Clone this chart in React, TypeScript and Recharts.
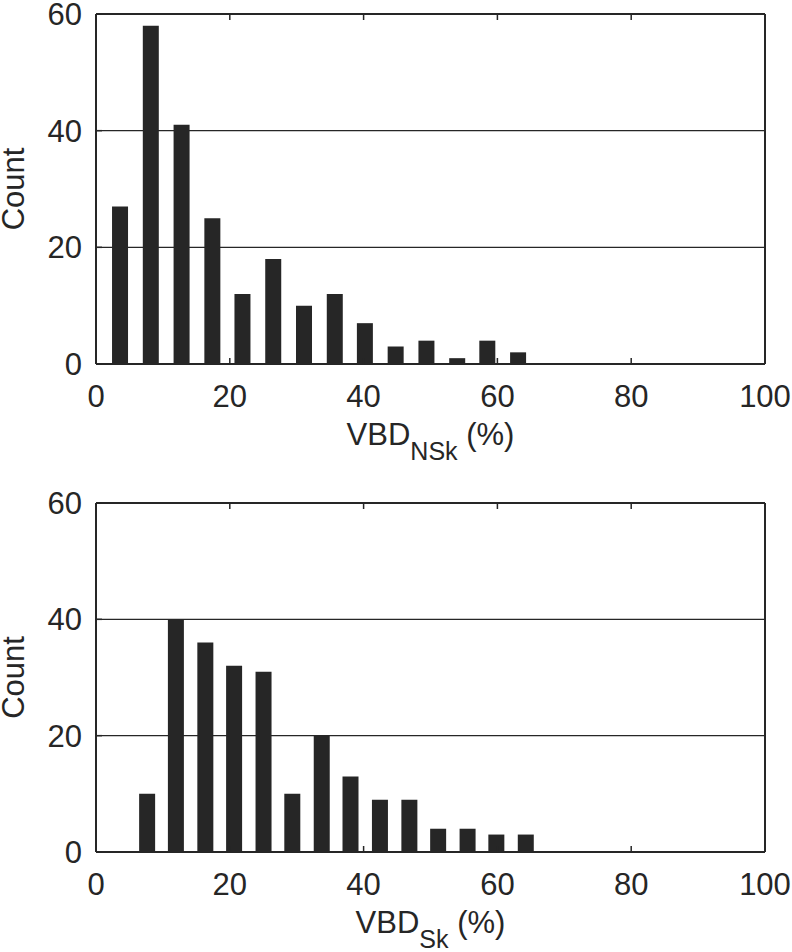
import React from "react";
import { BarChart, Bar, XAxis, YAxis, CartesianGrid, Label } from "recharts";

// bin centres (% VBD) and counts
const nskCenters = [3.6, 8.2, 12.8, 17.4, 21.9, 26.5, 31.1, 35.7, 40.2, 44.8, 49.4, 54.0, 58.5, 63.1];
const nskCounts = [27, 58, 41, 25, 12, 18, 10, 12, 7, 3, 4, 1, 4, 2];
const skCenters = [7.7, 12.0, 16.4, 20.7, 25.1, 29.4, 33.8, 38.1, 42.5, 46.9, 51.2, 55.6, 59.9, 64.3];
const skCounts = [10, 40, 36, 32, 31, 10, 20, 13, 9, 9, 4, 4, 3, 3];
const xTicks = [0, 20, 40, 60, 80, 100];
const yTicks = [0, 20, 40, 60];

const INK = "#262626";
const FONT = "'Liberation Sans', Arial, Helvetica, sans-serif";
const FS = 31;

function XLabel({ viewBox, sub }: any) {
  const cx = viewBox.x + viewBox.width / 2;
  const y = viewBox.y + 81;
  return (
    <text x={cx} y={y} textAnchor="middle" fontFamily={FONT} fontSize={FS} fill={INK}>
      VBD
      <tspan dy={15} fontSize={25}>{sub}</tspan>
      <tspan dy={-15}> (%)</tspan>
    </text>
  );
}

function YLabel({ viewBox }: any) {
  const cx = 13;
  const cy = viewBox.y + viewBox.height / 2;
  return (
    <text x={cx} y={cy} transform={`rotate(-90, ${cx}, ${cy})`} textAnchor="middle" dominantBaseline="central" fontFamily={FONT} fontSize={FS} fill={INK}>
      Count
    </text>
  );
}

function Histogram({ centers, counts, sub, top, bottom }: { centers: number[]; counts: number[]; sub: string; top: number; bottom: number }) {
  const data = centers.map((x, i) => ({ x, count: counts[i] }));
  const tickStyle = { fontFamily: FONT, fontSize: FS, fill: INK };
  return (
    <BarChart width={792} height={476} data={data} margin={{ top: top - 1, right: 26, left: 95, bottom: bottom - 1 }}>
      <CartesianGrid xAxisId="b" yAxisId="l" vertical={false} horizontalValues={[20, 40]} stroke={INK} strokeWidth={1.2} />
      <XAxis xAxisId="b" type="number" dataKey="x" domain={[0, 100]} ticks={xTicks} height={1}
        axisLine={{ stroke: INK, strokeWidth: 2 }} tickLine={{ stroke: INK, strokeWidth: 1.5 }}
        tickSize={-6} tickMargin={27} tick={tickStyle} interval={0}>
        <Label content={(p: any) => <XLabel viewBox={p.viewBox} sub={sub} />} />
      </XAxis>
      <XAxis xAxisId="t" orientation="top" type="number" dataKey="x" domain={[0, 100]} ticks={xTicks} height={1}
        axisLine={{ stroke: INK, strokeWidth: 2 }} tickLine={{ stroke: INK, strokeWidth: 1.5 }}
        tickSize={-6} tickFormatter={() => ""} interval={0} />
      <YAxis yAxisId="l" domain={[0, 60]} ticks={yTicks} width={1}
        axisLine={{ stroke: INK, strokeWidth: 2 }} tickLine={{ stroke: INK, strokeWidth: 1.5 }}
        tickSize={-6} tickMargin={20} tick={tickStyle} interval={0}>
        <Label content={(p: any) => <YLabel viewBox={p.viewBox} />} />
      </YAxis>
      <YAxis yAxisId="r" orientation="right" domain={[0, 60]} ticks={yTicks} width={1}
        axisLine={{ stroke: INK, strokeWidth: 2 }} tickLine={{ stroke: INK, strokeWidth: 1.5 }}
        tickSize={-6} tickFormatter={() => ""} interval={0} />
      <Bar xAxisId="b" yAxisId="l" dataKey="count" fill={INK} barSize={16} isAnimationActive={false} />
    </BarChart>
  );
}

export default function App() {
  return (
    <div style={{ width: 792, height: 952, background: "#fff" }}>
      <style>{`body{margin:0}`}</style>
      <Histogram centers={nskCenters} counts={nskCounts} sub="NSk" top={14} bottom={112} />
      <Histogram centers={skCenters} counts={skCounts} sub="Sk" top={27} bottom={100} />
    </div>
  );
}
